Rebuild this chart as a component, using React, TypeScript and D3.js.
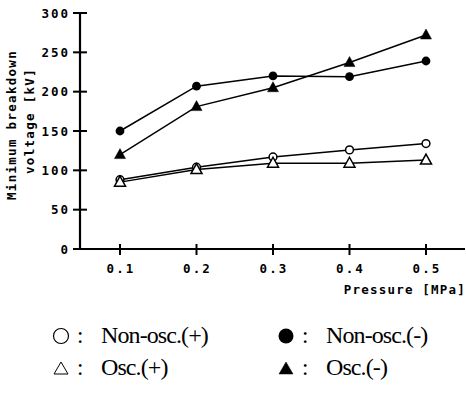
import { useMemo } from 'react';
import * as d3 from 'd3';

const pressures = [0.1, 0.2, 0.3, 0.4, 0.5];
const nonOscPlus = [88, 104, 117, 126, 134];
const nonOscMinus = [150, 207, 220, 219, 239];
const oscPlus = [85, 101, 109, 109, 113];
const oscMinus = [120, 181, 205, 237, 272];

const yTicks = [0, 50, 100, 150, 200, 250, 300];
const xTickLabels = ['0.1', '0.2', '0.3', '0.4', '0.5'];

const SERIES = [
  { name: 'Non-osc.(+)', values: nonOscPlus, shape: 'circle', filled: false },
  { name: 'Non-osc.(-)', values: nonOscMinus, shape: 'circle', filled: true },
  { name: 'Osc.(+)', values: oscPlus, shape: 'triangle', filled: false },
  { name: 'Osc.(-)', values: oscMinus, shape: 'triangle', filled: true },
];

const axisFont = "'DejaVu Sans Mono', monospace";
const legendFont = "'Liberation Serif', 'Times New Roman', serif";

function Marker({ x, y, shape, filled }: { x: number; y: number; shape: string; filled: boolean }) {
  if (shape === 'circle') {
    return (
      <circle cx={x} cy={y} r={filled ? 4.4 : 3.9} fill={filled ? '#000' : '#fff'} stroke="#000" strokeWidth={filled ? 0 : 1.5} />
    );
  }
  const h = 10;
  const w = 11;
  const d = `M${x},${y - h * 0.6}L${x + w / 2},${y + h * 0.4}L${x - w / 2},${y + h * 0.4}Z`;
  return <path d={d} fill={filled ? '#000' : '#fff'} stroke="#000" strokeWidth={filled ? 0.5 : 1.5} />;
}

export default function App() {
  const width = 466;
  const height = 396;

  const x = useMemo(() => d3.scaleLinear().domain([0.1, 0.5]).range([120, 426]), []);
  const y = useMemo(() => d3.scaleLinear().domain([0, 300]).range([249, 13]), []);

  const line = d3
    .line<number>()
    .x((_, i) => x(pressures[i]))
    .y((v) => y(v));

  return (
    <div style={{ position: 'absolute', left: 0, top: 0, width, height, background: '#fff' }}>
      <svg width={width} height={height} viewBox={`0 0 ${width} ${height}`}>
        {/* axes */}
        <line x1={80} x2={80} y1={y(300)} y2={y(0)} stroke="#000" strokeWidth={2.2} />
        <line x1={73} x2={465} y1={y(0)} y2={y(0)} stroke="#000" strokeWidth={2.2} />
        {yTicks.map((t) => (
          <g key={t}>
            <line x1={73} x2={87} y1={y(t)} y2={y(t)} stroke="#000" strokeWidth={2} />
            <text
              x={70}
              y={y(t)}
              dy="0.36em"
              textAnchor="end"
              fontFamily={axisFont}
              fontWeight="bold"
              fontSize={12.5}
              letterSpacing={2}
            >
              {t}
            </text>
          </g>
        ))}
        {pressures.map((p, i) => (
          <g key={p}>
            <line x1={x(p)} x2={x(p)} y1={y(0) - 5} y2={y(0) + 6} stroke="#000" strokeWidth={2} />
            <text
              x={x(p) + 1}
              y={273}
              textAnchor="middle"
              fontFamily={axisFont}
              fontWeight="bold"
              fontSize={12.5}
              letterSpacing={2.2}
            >
              {xTickLabels[i]}
            </text>
          </g>
        ))}
        <text x={466} y={294} textAnchor="end" fontFamily={axisFont} fontWeight="bold" fontSize={12.5} letterSpacing={1.2}>
          Pressure [MPa]
        </text>
        <g fontFamily={axisFont} fontWeight="bold" fontSize={12.5} letterSpacing={1.3} textAnchor="middle">
          <text transform="translate(16,125) rotate(-90)">Minimum breakdown</text>
          <text transform="translate(34,121) rotate(-90)">voltage [kV]</text>
        </g>

        {/* series */}
        {SERIES.map((s) => (
          <path key={s.name + 'l'} d={line(s.values) ?? ''} fill="none" stroke="#000" strokeWidth={1.5} />
        ))}
        {SERIES.map((s) =>
          s.values.map((v, i) => (
            <Marker key={s.name + i} x={x(pressures[i])} y={y(v)} shape={s.shape} filled={s.filled} />
          ))
        )}

        {/* legend */}
        {SERIES.map((s, i) => {
          const col = i % 2;
          const row = Math.floor(i / 2);
          const mx = col === 0 ? 61 : 286;
          const cy = row === 0 ? 336 : 368;
          return (
            <g key={s.name + 'leg'}>
              {s.shape === 'circle' ? (
                <circle cx={mx} cy={cy} r={7.5} fill={s.filled ? '#000' : '#fff'} stroke="#000" strokeWidth={s.filled ? 0 : 1.2} />
              ) : (
                <path
                  d={`M${mx},${cy - 6}L${mx + 7},${cy + 6}L${mx - 7},${cy + 6}Z`}
                  fill={s.filled ? '#000' : '#fff'}
                  stroke="#000"
                  strokeWidth={s.filled ? 0.5 : 1}
                />
              )}
              <text x={mx + 16} y={cy + 7} fontFamily={legendFont} fontSize={23}>
                :
              </text>
              <text x={mx + 40} y={cy + 7} fontFamily={legendFont} fontSize={24} letterSpacing={-0.9}>
                {s.name}
              </text>
            </g>
          );
        })}
      </svg>
    </div>
  );
}
